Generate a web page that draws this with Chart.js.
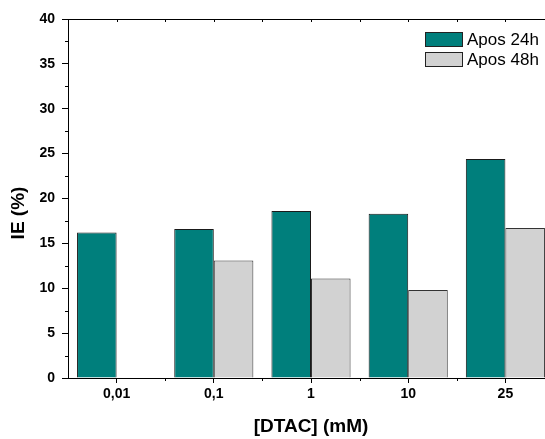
<!DOCTYPE html>
<html>
<head>
<meta charset="utf-8">
<script src="https://cdn.jsdelivr.net/npm/chart.js@4.4.0/dist/chart.umd.min.js"></script>
<style>
  html, body { margin: 0; padding: 0; background: #fff; overflow: hidden; }
  canvas { display: block; }
</style>
</head>
<body>
<canvas id="myChart" width="555" height="439"></canvas>
<script>
// kategorije na osi x
var categories = ["0,01", "0,1", "1", "10", "25"];
// vrednosti IE (%)
var apos24 = [16.2, 16.6, 18.6, 18.3, 24.4];
var apos48 = [null, 13.1, 11.1, 9.8, 16.7];
var seriesNames = ["Apos 24h", "Apos 48h"];

var fontFamily = "'Liberation Sans', Arial, sans-serif";

// minor ticks, top frame, legend and y title
var extrasPlugin = {
  id: "extras",
  afterDraw: function(chart) {
    var ctx = chart.ctx;
    var area = chart.chartArea;
    var x = chart.scales.x;
    var y = chart.scales.y;
    ctx.save();
    ctx.strokeStyle = "#000";
    ctx.lineWidth = 1;
    ctx.beginPath();
    // top frame
    ctx.moveTo(area.left, Math.round(area.top) + 0.5);
    ctx.lineTo(area.right + 5, Math.round(area.top) + 0.5);
    // y minor ticks
    for (var v = 2.5; v < 40; v += 5) {
      var py = Math.round(y.getPixelForValue(v)) + 0.5;
      ctx.moveTo(area.left, py);
      ctx.lineTo(area.left - 3, py);
    }
    // x minor ticks (between categories) + top inward ticks
    for (var i = 0; i < categories.length; i++) {
      var cx = Math.round(x.getPixelForValue(i)) + 0.5;
      ctx.moveTo(cx, area.top);
      ctx.lineTo(cx, area.top + 3);
      var bx = Math.round(x.getPixelForValue(i + 0.5)) + 0.5;
      ctx.moveTo(bx, area.bottom);
      ctx.lineTo(bx, area.bottom + 3);
      ctx.moveTo(bx, area.top);
      ctx.lineTo(bx, area.top + 3);
    }
    ctx.stroke();

    // legend
    ctx.font = "17px " + fontFamily;
    ctx.textBaseline = "middle";
    chart.data.datasets.forEach(function(ds, k) {
      var top = 32 + k * 20;
      ctx.fillStyle = ds.backgroundColor;
      ctx.fillRect(425, top, 38, 14);
      ctx.strokeStyle = "#222";
      ctx.strokeRect(425.5, top + 0.5, 37, 14);
      ctx.fillStyle = "#000";
      ctx.fillText(ds.label, 467, top + 8);
    });

    // y title
    ctx.font = "bold 19px " + fontFamily;
    ctx.textAlign = "center";
    ctx.translate(19, 213);
    ctx.rotate(-Math.PI / 2);
    ctx.fillText("IE (%)", 0, 0);
    ctx.restore();
  }
};

var ctx = document.getElementById("myChart");
var myChart = new Chart(ctx, {
  type: "bar",
  data: {
    labels: categories,
    datasets: [{
      label: seriesNames[0],
      data: apos24,
      backgroundColor: "#007F7C",
      borderColor: "#1a1a1a",
      borderWidth: 1,
      borderSkipped: "bottom"
    }, {
      label: seriesNames[1],
      data: apos48,
      backgroundColor: "#D2D2D2",
      borderColor: "#333",
      borderWidth: 1,
      borderSkipped: "bottom"
    }]
  },
  options: {
    responsive: false,
    animation: false,
    layout: { padding: { top: 19, right: 1, left: 0, bottom: 0 } },
    plugins: {
      legend: { display: false },
      tooltip: { enabled: false }
    },
    datasets: {
      bar: { categoryPercentage: 0.814, barPercentage: 1 }
    },
    scales: {
      x: {
        afterFit: function(scale) { scale.height = 61; },
        grid: {
          display: true,
          drawOnChartArea: false,
          drawTicks: true,
          tickLength: 5,
          tickColor: "#000",
          offset: false
        },
        border: { display: true, color: "#000", width: 1 },
        ticks: {
          color: "#000",
          font: { family: fontFamily, size: 14, weight: "bold" },
          padding: 3,
          maxRotation: 0,
          autoSkip: false
        },
        title: {
          display: true,
          text: "[DTAC] (mM)",
          color: "#000",
          font: { family: fontFamily, size: 19, weight: "bold" },
          padding: { top: 0, bottom: 1 }
        }
      },
      y: {
        min: 0,
        max: 40,
        afterFit: function(scale) { scale.width = 68; },
        grid: {
          display: true,
          drawOnChartArea: false,
          drawTicks: true,
          tickLength: 6,
          tickColor: "#000"
        },
        border: { display: true, color: "#000", width: 1 },
        ticks: {
          stepSize: 5,
          color: "#000",
          font: { family: fontFamily, size: 14, weight: "bold" },
          padding: 7
        },
        title: { display: false }
      }
    }
  },
  plugins: [extrasPlugin]
});
</script>
</body>
</html>
